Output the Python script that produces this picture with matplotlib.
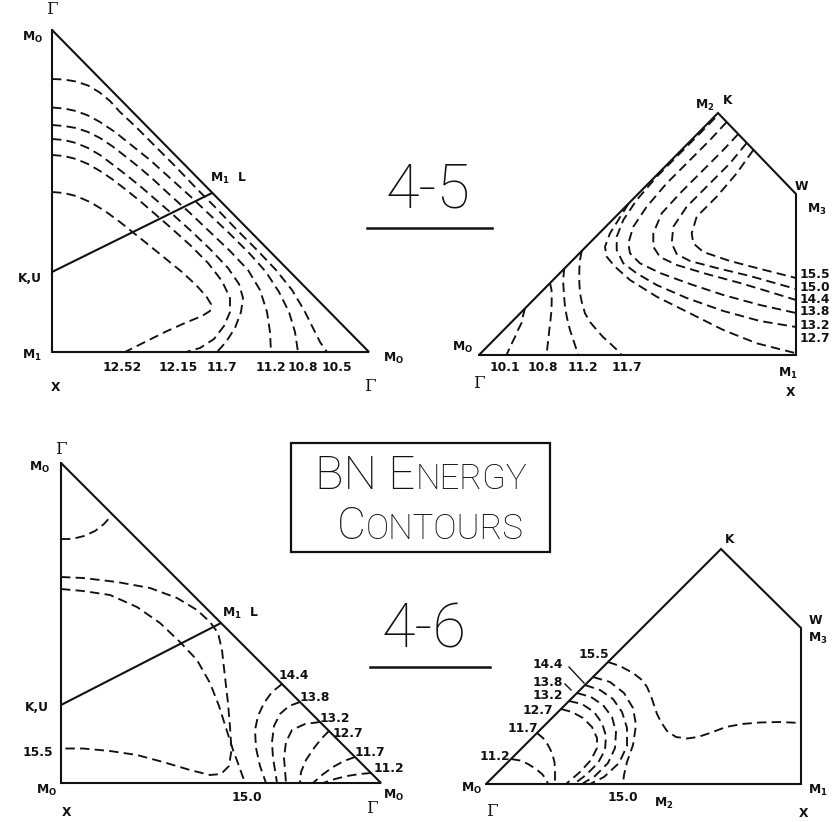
import matplotlib
matplotlib.use("Agg")
import matplotlib.pyplot as plt
from matplotlib.patches import Rectangle

plt.rcParams["mathtext.fontset"] = "dejavusans"

# ------------------------------------------------------------------
# Plate coordinates: x to the right, y downward (drawing units).
# ------------------------------------------------------------------

# Band 4-5, first zone section (Gamma-X-Gamma triangle)
zone_45a = [(52, 30), (52, 352), (369, 352), (52, 30)]
cut_45a = [(52, 272), (212, 193)]
levels_45a = ["10.5", "10.8", "11.2", "11.7", "12.15", "12.52"]
paths_45a = {
    "10.5": [(52, 79), (64, 79.5), (76, 81.5), (88, 85.5), (99, 92), (110, 101),
             (120, 112), (136, 127), (156, 147), (176, 167), (196, 188), (216, 208),
             (236, 229), (257, 250), (276, 270), (292, 290), (304, 310), (313, 328),
             (320, 342), (327, 352)],
    "10.8": [(52, 107.5), (64, 108.5), (76, 111), (88, 115.5), (100, 122), (115, 132),
             (130, 144), (150, 160), (170, 178), (190, 196), (210, 215), (230, 234),
             (250, 254), (266, 272), (279, 292), (289, 312), (295, 332), (298, 352)],
    "11.2": [(52, 125), (64, 126), (76, 128), (88, 132), (100, 138), (112, 146),
             (125, 156), (140, 168), (155, 181), (170, 195), (190, 213), (210, 232),
             (230, 251), (248, 270), (260, 290), (267, 312), (270, 332), (271, 352)],
    "11.7": [(52, 139), (64, 140), (76, 143), (88, 148), (100, 155), (112, 164),
             (125, 174), (140, 186), (155, 199), (170, 212), (190, 230), (210, 249),
             (228, 268), (239, 284), (243, 298), (241, 312), (235, 328), (226, 342),
             (217, 352)],
    "12.15": [(52, 155), (64, 156), (76, 159), (88, 164), (100, 171), (112, 179),
              (125, 189), (140, 201), (155, 214), (170, 227), (190, 245), (208, 263),
              (222, 281), (230, 298), (230, 312), (224, 326), (214, 339), (200, 348),
              (186, 352)],
    "12.52": [(52, 192), (64, 193), (76, 196), (90, 202), (105, 211), (120, 222),
              (135, 234), (150, 246), (166, 259), (182, 272), (196, 285), (206, 296),
              (211, 304), (210, 311), (202, 316), (185, 323), (165, 332), (145, 342),
              (125, 352)],
}

# Band 4-5, second zone section (Gamma-X-W-K)
zone_45b = [(479, 355), (718, 113), (796, 194), (796, 355), (479, 355)]
levels_45b_low = ["10.1", "10.8", "11.2", "11.7"]
levels_45b_high = ["15.5", "15.0", "14.4", "13.8", "13.2", "12.7"]
paths_45b = {
    "10.1": [(525, 308), (523, 316), (521.5, 323), (518, 330), (515, 337), (511, 345),
             (506.5, 355)],
    "10.8": [(550, 283), (551.5, 290), (551.7, 300), (551.5, 310), (550.5, 320),
             (549.3, 330), (548, 342), (546.5, 355)],
    "11.2": [(564.3, 268), (563.5, 276), (563.3, 284), (564, 295), (565, 306.7),
             (567, 318), (570, 330), (574, 342), (578.3, 355)],
    "11.7": [(581.7, 251), (580, 260), (579.3, 270), (579.3, 282), (580, 293.3),
             (582, 303), (585, 313.3), (590, 322), (596.7, 330), (603, 337),
             (610, 343.3), (616, 349), (621.7, 355)],
    "12.7": [(628.3, 204), (618.3, 220), (610, 233.3), (605, 246.7), (606.7, 256.7),
             (615, 266.7), (630, 280), (656.7, 296.7), (690, 313.3), (723.3, 330),
             (756.7, 343.3), (795, 353)],
    "13.2": [(715, 118), (700, 133.3), (680, 153.3), (656.7, 176.7), (636.7, 200),
             (623.3, 220), (616.7, 236.7), (616.7, 250), (623.3, 263.3), (636.7, 273.3),
             (656.7, 285), (686.7, 298), (723.3, 311), (760, 321), (796, 327)],
    "13.8": [(726.7, 122), (710, 140), (690, 160), (666.7, 183.3), (646.7, 206.7),
             (633.3, 226.7), (628.3, 243.3), (630, 253.3), (640, 263.3), (660, 273),
             (690, 284), (723.3, 295), (760, 305), (796, 313)],
    "14.4": [(738.3, 134), (723.3, 150), (703.3, 170), (680, 193.3), (661.7, 213.3),
             (653.3, 233.3), (653.3, 246.7), (660, 257), (676.7, 265), (706.7, 274),
             (740, 283), (770, 292), (796, 300)],
    "15.0": [(746.7, 143), (730, 163.3), (710, 183.3), (686.7, 206.7), (673.3, 226.7),
             (671.7, 243.3), (676.7, 254), (690, 261), (716.7, 268), (750, 276),
             (796, 289)],
    "15.5": [(753.3, 150), (736.7, 173.3), (716.7, 196.7), (696.7, 216.7),
             (691.7, 233.3), (693.3, 243.3), (703.3, 252), (730, 261), (756.7, 268),
             (796, 278)],
}

# Band 4-6, first zone section
zone_46a = [(61, 463), (61, 783), (381, 783), (61, 463)]
cut_46a = [(61, 705), (221, 623)]
levels_46a_diag = ["14.4", "13.8", "13.2", "12.7", "11.7", "11.2"]
paths_46a = {
    "cap": [(61, 539), (72, 539), (84, 536), (95, 531), (104, 524), (112.5, 514.5)],
    "15.5": [(61, 577), (83, 578), (117, 582), (150, 588), (177, 598), (197, 610),
             (210, 622), (218, 633), (222, 650), (225, 677), (228, 703), (230, 727),
             (231.5, 750), (229, 766), (221, 774), (210, 775), (190, 770), (163, 762),
             (137, 755), (110, 751), (83, 748.5), (61, 748.5)],
    "15.0": [(61, 589), (83, 591), (110, 595), (137, 607), (160, 623), (180, 642),
             (197, 660), (210, 683), (219, 706), (226, 728), (233, 750), (239, 766),
             (245, 783)],
    "14.4": [(282, 684), (272, 692), (264, 703), (258, 716), (255, 730), (256, 748),
             (260, 766), (266, 783)],
    "13.8": [(300, 702), (289, 706), (280, 714), (274, 726), (272, 742), (273, 758),
             (275, 770), (277, 783)],
    "13.2": [(320, 722), (305, 724), (292, 730), (286, 742), (284, 758), (285, 770),
             (286, 783)],
    "12.7": [(329, 731), (322, 738), (314, 748), (306, 760), (301, 772), (300, 783)],
    "11.7": [(355, 757), (344, 761), (333, 767), (322, 775), (313, 783)],
    "11.2": [(371, 773), (360, 774), (347, 776), (335, 779), (323, 783)],
}

# Band 4-6, second zone section
zone_46b = [(486, 784), (721, 549), (801, 628), (801, 784), (486, 784)]
levels_46b_diag = ["15.5", "14.4", "13.8", "13.2", "12.7", "11.7", "11.2"]
paths_46b = {
    "11.2": [(511, 759), (520, 760.5), (528, 764), (536, 769), (542, 774), (546, 779),
             (548, 784)],
    "11.7": [(537, 733), (543, 738), (548, 745), (552, 753), (554.5, 762), (555, 772),
             (555, 784)],
    "12.7": [(561, 709), (572, 712), (583, 718), (592, 727), (597, 738), (597, 748),
             (591, 760), (580, 772), (566, 784)],
    "13.2": [(569, 701), (582, 704), (594, 712), (602, 723), (606, 736), (605, 750),
             (598, 763), (586, 775), (574, 784)],
    "13.8": [(577, 693), (591, 697), (603, 705), (612, 717), (616, 732), (615, 748),
             (608, 763), (595, 776), (582, 784)],
    "14.4": [(585, 685), (600, 690), (613, 699), (622, 712), (627, 728), (627, 746),
             (619, 763), (604, 777), (590, 784)],
    "15.0": [(593, 677), (610, 682), (624, 693), (633, 708), (636, 725), (633, 745),
             (627, 762), (624, 775), (623, 784)],
    "15.5": [(608, 662), (620, 666), (633, 673), (642, 680), (647, 687), (651, 696),
             (654, 705), (657, 714), (661, 722), (667, 731), (676, 737), (687, 738.5),
             (698, 737), (710, 733), (726, 727), (742, 724), (760, 722.5), (780, 722),
             (801, 723)],
}

# ------------------------------------------------------------------
W, H = 832, 822
fig = plt.figure(figsize=(W / 100, H / 100), dpi=100)
ax = fig.add_axes([0, 0, 1, 1])
ax.set_xlim(0, W)
ax.set_ylim(H, 0)
ax.axis("off")

INK = "#111111"
SOLID = dict(color=INK, lw=1.5, solid_capstyle="round", solid_joinstyle="miter")
DASH = dict(color=INK, lw=1.35, linestyle=(0, (5.0, 2.8)), dash_capstyle="butt")
LBL = dict(fontsize=8.8, color=INK, family="DejaVu Sans", fontweight="bold")
GAM = dict(fontsize=12, color=INK, family="DejaVu Serif")


def poly(pts, **kw):
    xs, ys = zip(*pts)
    ax.plot(xs, ys, **kw)


def lab(x, y, s, ha="center", va="center", **kw):
    st = dict(LBL)
    st.update(kw)
    ax.text(x, y, s, ha=ha, va=va, **st)


def gamma(x, y):
    ax.text(x, y, "\u0393", ha="center", va="center", **GAM)


M0 = r"M$_{\mathbf{O}}$"
M1 = r"M$_{\mathbf{1}}$"
M2 = r"M$_{\mathbf{2}}$"
M3 = r"M$_{\mathbf{3}}$"

# ---------------- panel 4-5 (left) ----------------
poly(zone_45a, **SOLID)
poly(cut_45a, **SOLID)
for lv in levels_45a:
    poly(paths_45a[lv], **DASH)
gamma(52, 9)
lab(33, 37, M0)
lab(228, 178, M1 + "  L")
lab(30, 278, "K,U")
lab(32, 355, M1)
lab(56, 387, "X")
lab(394, 358, M0)
gamma(370, 386)
bottom_x_45a = {"12.52": 122, "12.15": 178, "11.7": 222, "11.2": 271, "10.8": 303,
                "10.5": 337}
for lv in levels_45a:
    lab(bottom_x_45a[lv], 367, lv)

# ---------------- panel 4-5 (right) ----------------
poly(zone_45b, **SOLID)
for lv in levels_45b_low + levels_45b_high:
    poly(paths_45b[lv], **DASH)
lab(705, 105, M2)
lab(728, 100, "K")
lab(801, 187, "W")
lab(817, 209, M3)
lab(463, 347, M0)
gamma(479, 383)
lab(788, 373, M1)
lab(791, 392, "X")
bottom_x_45b = {"10.1": 505, "10.8": 543, "11.2": 583, "11.7": 627}
for lv in levels_45b_low:
    lab(bottom_x_45b[lv], 367, lv)
right_y = {"15.5": 274, "15.0": 287, "14.4": 299, "13.8": 311, "13.2": 325, "12.7": 338}
for lv in levels_45b_high:
    lab(800, right_y[lv], lv, ha="left")

# ---------------- panel 4-6 (left) ----------------
poly(zone_46a, **SOLID)
poly(cut_46a, **SOLID)
for key, pts in paths_46a.items():
    poly(pts, **DASH)
gamma(61, 449)
lab(40, 467, M0)
lab(240, 613, M1 + "  L")
lab(37, 707, "K,U")
lab(38, 752, "15.5")
lab(47, 790, M0)
lab(67, 812, "X")
lab(247, 797, "15.0")
lab(394, 795, M0)
gamma(372, 808)
diag_46a = {"14.4": (294, 675), "13.8": (315, 697), "13.2": (335, 718),
            "12.7": (348, 733), "11.7": (370, 752), "11.2": (389, 768)}
for lv in levels_46a_diag:
    lab(*diag_46a[lv], lv)

# ---------------- panel 4-6 (right) ----------------
poly(zone_46b, **SOLID)
for key, pts in paths_46b.items():
    poly(pts, **DASH)
lab(730, 539, "K")
lab(815, 620, "W")
lab(818, 638, M3)
lab(818, 790, M1)
lab(804, 813, "X")
lab(472, 788, M0)
gamma(492, 811)
lab(623, 797, "15.0")
lab(664, 803, M2)
diag_46b = {"15.5": (594, 654), "14.4": (548, 664), "13.8": (548, 682),
            "13.2": (548, 695), "12.7": (538, 710), "11.7": (523, 728),
            "11.2": (495, 756)}
for lv in levels_46b_diag:
    lab(*diag_46b[lv], lv)
poly([(569, 667), (584, 683)], color=INK, lw=1.0)
poly([(565, 684), (571, 690)], color=INK, lw=1.0)

# ---------------- titles ----------------
TITLE = dict(fontsize=44, color=INK, family="Roboto", fontweight="light")
ax.text(428, 191, "4-5", ha="center", va="center", **TITLE)
ax.plot([367, 492], [228, 228], color=INK, lw=1.8)
ax.text(424, 630, "4-6", ha="center", va="center", **TITLE)
ax.plot([370, 490], [667, 667], color=INK, lw=1.8)

ax.add_patch(Rectangle((291, 443), 259, 109, fill=False, ec=INK, lw=1.6))

fig.canvas.draw()
renderer = fig.canvas.get_renderer()


def small_caps(cx, base_y, pieces):
    texts = []
    for s, size in pieces:
        t = ax.text(0, base_y, s, ha="left", va="baseline", fontsize=size, color=INK,
                    family="Roboto", fontweight="light")
        texts.append(t)
    widths = [t.get_window_extent(renderer=renderer).width for t in texts]
    x = cx - sum(widths) / 2
    for t, w in zip(texts, widths):
        t.set_x(x)
        x += w


small_caps(421, 489, [("BN E", 34), ("NERGY", 25)])
small_caps(430, 539, [("C", 32), ("ONTOURS", 25)])

fig.savefig("out.png", dpi=100, facecolor="white")
